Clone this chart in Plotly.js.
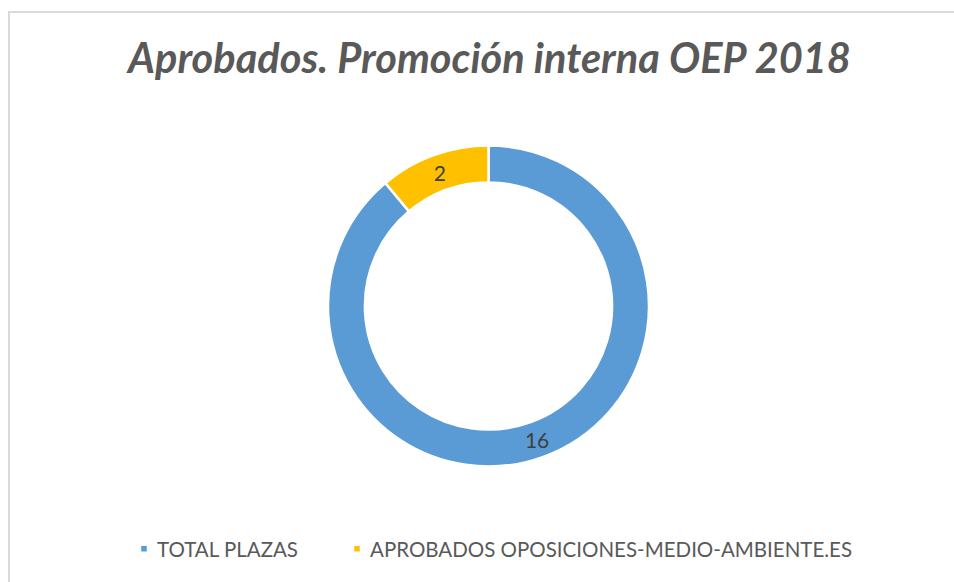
<!DOCTYPE html>
<html>
<head>
<meta charset="utf-8">
<script src="https://cdn.plot.ly/plotly-3.0.1.min.js"></script>
<style>
  html, body { margin: 0; padding: 0; background: #ffffff; }
  #frame { position: absolute; left: 8px; top: 11px; width: 946px; height: 571px;
           border-left: 2px solid #d9d9d9; border-top: 2px solid #d9d9d9; }
  #chart { width: 944px; height: 569px; }
</style>
</head>
<body>
<div id="frame"><div id="chart"></div></div>
<script>
const categories = ["TOTAL PLAZAS", "APROBADOS OPOSICIONES-MEDIO-AMBIENTE.ES"];
const values = [16, 2];
const sliceColors = ["#5B9BD5", "#FFC000"];
const chartTitle = "Aprobados. Promoción interna OEP 2018";

const W = 944, H = 569;
const cx = 478.5, cy = 293, R = 160.5;

const trace = {
  type: "pie",
  labels: categories,
  values: values,
  hole: 0.77,
  sort: false,
  direction: "clockwise",
  rotation: 0,
  marker: { colors: sliceColors, line: { color: "#ffffff", width: 2.5 } },
  textinfo: "value",
  textposition: "inside",
  insidetextorientation: "horizontal",
  textfont: { family: "Lato, 'Open Sans', sans-serif", size: 21, color: "#404040" },
  hoverinfo: "label+value",
  domain: {
    x: [(cx - R) / W, (cx + R) / W],
    y: [(H - cy - R) / H, (H - cy + R) / H]
  }
};

const layout = {
  width: W, height: H,
  margin: { l: 0, r: 0, t: 0, b: 0 },
  paper_bgcolor: "#ffffff",
  title: {
    text: "<b><i>" + chartTitle + "</i></b>",
    font: { family: "Lato, 'Open Sans', sans-serif", size: 41.5, color: "#595959" },
    x: (489.5 - 10) / W, xanchor: "center",
    y: 1 - 45 / H, yanchor: "middle", yref: "container"
  },
  showlegend: true,
  legend: {
    orientation: "h",
    x: (147 - 40) / W, xanchor: "left",
    y: 1 - 536 / H, yanchor: "middle",
    entrywidth: 168,
    bgcolor: "rgba(0,0,0,0)",
    font: { family: "Lato, 'Open Sans', sans-serif", size: 20.5, color: "#595959" },
    itemclick: false, itemdoubleclick: false
  }
};

function fixLegend() {
  document.querySelectorAll("#chart .legendpoints path").forEach(function (p) {
    if (!p.dataset.fixed) {
      const t = p.getAttribute("transform") || "";
      p.setAttribute("transform", t + " translate(7,0) scale(0.58)");
      p.dataset.fixed = "1";
    }
  });
  document.querySelectorAll("#chart .legend .scrollbox").forEach(function (s) {
    s.removeAttribute("clip-path");
  });
}

Plotly.newPlot("chart", [trace], layout, { displayModeBar: false }).then(function (gd) {
  fixLegend();
});
</script>
</body>
</html>
